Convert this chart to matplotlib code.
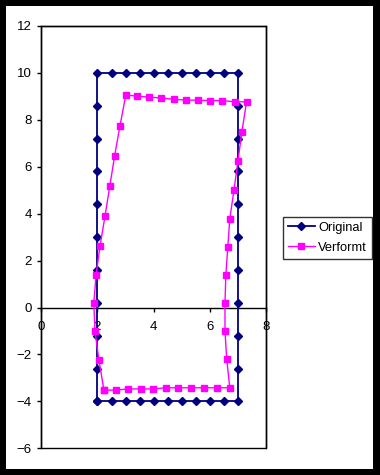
import numpy as np
import matplotlib.pyplot as plt
from matplotlib.patches import Rectangle

plt.rcParams['font.family'] = ['Liberation Sans', 'DejaVu Sans']

# Original rectangle (closed path, starting bottom left, counterclockwise)
orig_x = [2, 2.5, 3, 3.5, 4, 4.5, 5, 5.5, 6, 6.5, 7,
          7, 7, 7, 7, 7, 7, 7, 7, 7, 7,
          6.5, 6, 5.5, 5, 4.5, 4, 3.5, 3, 2.5, 2,
          2, 2, 2, 2, 2, 2, 2, 2, 2, 2]
orig_y = [-4, -4, -4, -4, -4, -4, -4, -4, -4, -4, -4,
          -2.6, -1.2, 0.2, 1.6, 3.0, 4.4, 5.8, 7.2, 8.6, 10,
          10, 10, 10, 10, 10, 10, 10, 10, 10, 10,
          8.6, 7.2, 5.8, 4.4, 3.0, 1.6, 0.2, -1.2, -2.6, -4]

# Deformed shape
verf_x = [2.23, 2.66, 3.08, 3.55, 3.97, 4.44, 4.86, 5.33, 5.79, 6.25, 6.71,
          6.60, 6.54, 6.54, 6.57, 6.64, 6.71, 6.86, 7.00, 7.14, 7.31,
          6.89, 6.43, 6.00, 5.58, 5.15, 4.71, 4.26, 3.83, 3.39, 3.01,
          2.80, 2.61, 2.44, 2.27, 2.09, 1.95, 1.87, 1.91, 2.05, 2.23]
verf_y = [-3.52, -3.52, -3.47, -3.47, -3.47, -3.42, -3.42, -3.42, -3.42, -3.42, -3.42,
          -2.19, -0.99, 0.20, 1.38, 2.58, 3.77, 5.01, 6.23, 7.49, 8.77,
          8.77, 8.82, 8.82, 8.84, 8.84, 8.88, 8.93, 8.97, 9.01, 9.06,
          7.74, 6.46, 5.19, 3.91, 2.62, 1.38, 0.20, -0.99, -2.23, -3.52]

xticks = [0, 2, 4, 6, 8]
yticks = [-6, -4, -2, 0, 2, 4, 6, 8, 10, 12]

W, H = 380, 475
fig = plt.figure(figsize=(W / 100, H / 100), dpi=100)
fig.patch.set_facecolor('black')
# white chart area inside the black frame
fig.add_artist(Rectangle((6 / W, 6 / H), 367 / W, 463 / H, transform=fig.transFigure,
                         facecolor='white', edgecolor='none', zorder=0))

ax = fig.add_axes([41.3 / W, 26.7 / H, 224.7 / W, 422.3 / H])
ax.set_facecolor('white')

ax.plot(orig_x, orig_y, color='#000080', lw=1.3, marker='D', ms=3.6,
        mfc='#000080', mec='#000080', label='Original', zorder=3)
ax.plot(verf_x, verf_y, color='#FF00FF', lw=1.0, marker='s', ms=4.4,
        mfc='#FF00FF', mec='#FF00FF', label='Verformt', zorder=4)

ax.set_xlim(0, 8)
ax.set_ylim(-6, 12)
ax.set_xticks(xticks)
ax.set_yticks(yticks)

for s in ['top', 'right', 'left']:
    ax.spines[s].set_linewidth(1.0)
ax.spines['bottom'].set_position(('data', 0))
ax.spines['bottom'].set_linewidth(1.0)
# lower border of the plot area
ax.add_patch(Rectangle((0, 0), 1, 1, transform=ax.transAxes, fill=False,
                       edgecolor='black', lw=1.0, clip_on=False, zorder=5))

ax.tick_params(axis='y', direction='out', length=3, width=1, pad=4, labelsize=9.5)
ax.tick_params(axis='x', direction='out', length=3, width=1, pad=7, labelsize=9.5)

leg = fig.legend(loc='lower left', bbox_to_anchor=(282.7 / W, (H - 258.7) / H),
                 borderaxespad=0, fontsize=9.3, frameon=True, fancybox=False,
                 edgecolor='black', handlelength=2.1, handletextpad=0.25,
                 borderpad=0.4, labelspacing=0.6)
leg.get_frame().set_linewidth(1.0)

plt.savefig('out.png', dpi=100, facecolor=fig.get_facecolor())
plt.close(fig)
